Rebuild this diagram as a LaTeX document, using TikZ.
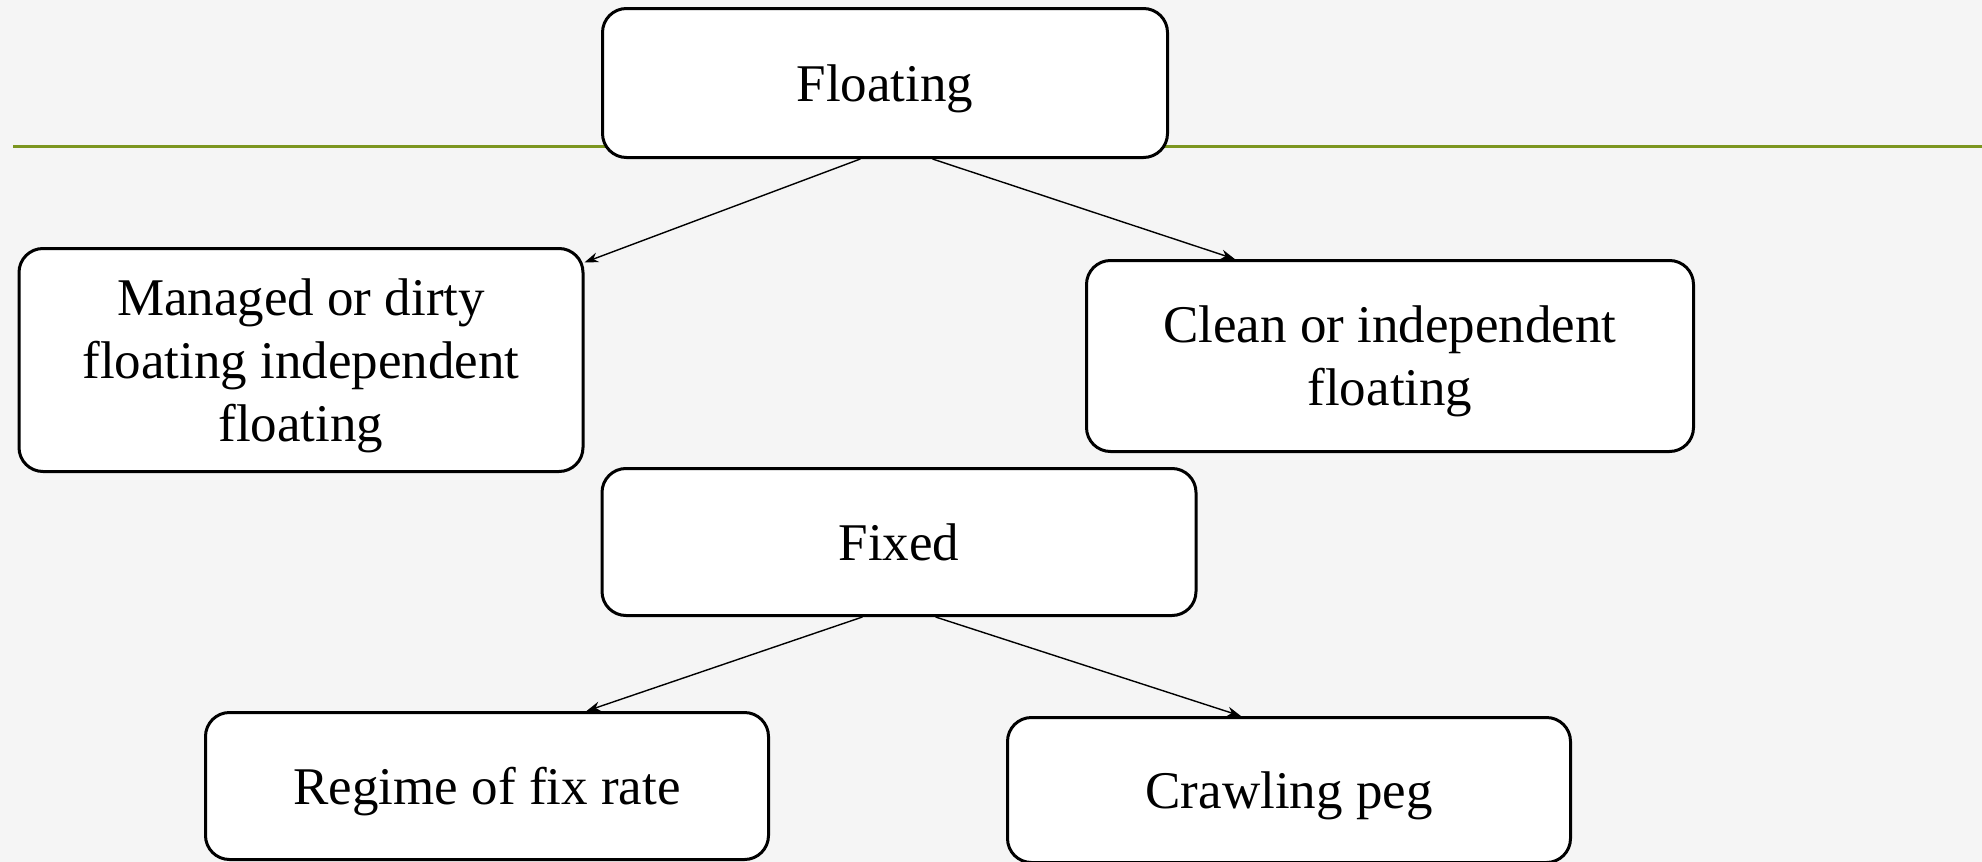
\documentclass[tikz,border=0pt]{standalone}
\usepackage{fontspec}
\setmainfont{Liberation Serif}
\usetikzlibrary{arrows.meta}
\definecolor{rulegreen}{RGB}{124,150,32}
\definecolor{paper}{RGB}{245,245,245}
\tikzset{
  box/.style={draw, rounded corners=12pt, line width=1.5pt, fill=white,
    align=center, inner sep=0pt, text depth=0pt, font=\fontsize{26.5}{31.5}\selectfont},
  link/.style={-{Stealth[length=7pt,width=5pt]}, line width=0.7pt}
}
\begin{document}
\begin{tikzpicture}[x=0.5pt,y=-0.5pt]
                \fill[paper] (0,0) rectangle (1982,862);
                \useasboundingbox (0,0) rectangle (1982,862);
                \draw[rulegreen, line width=1.5pt] (13,146) -- (1982,146);
                \node[box, minimum width=282.5pt, minimum height=74.5pt] (floating) at (885,83) {Floating};
                \node[box, minimum width=282pt, minimum height=111.5pt] (managed) at (301,360) {Managed or dirty\\floating independent\\floating};
                \node[box, minimum width=303.5pt, minimum height=95.5pt] (clean) at (1390,356) {Clean or independent\\floating};
                \node[box, minimum width=297pt, minimum height=73.5pt] (fixed) at (899,542) {Fixed};
                \node[box, minimum width=281.5pt, minimum height=73.5pt] (regime) at (487,786) {Regime of fix rate};
                \node[box, minimum width=281.5pt, minimum height=72.5pt] (crawling) at (1289,790) {Crawling peg};
                \draw[link] (floating.252) -- (managed.19);
                \draw[link] (floating.302) -- (clean.148);
                \draw[link] (fixed.244) -- (regime.37);
                \draw[link] (fixed.296) -- (crawling.123);
            \end{tikzpicture}
\end{document}
